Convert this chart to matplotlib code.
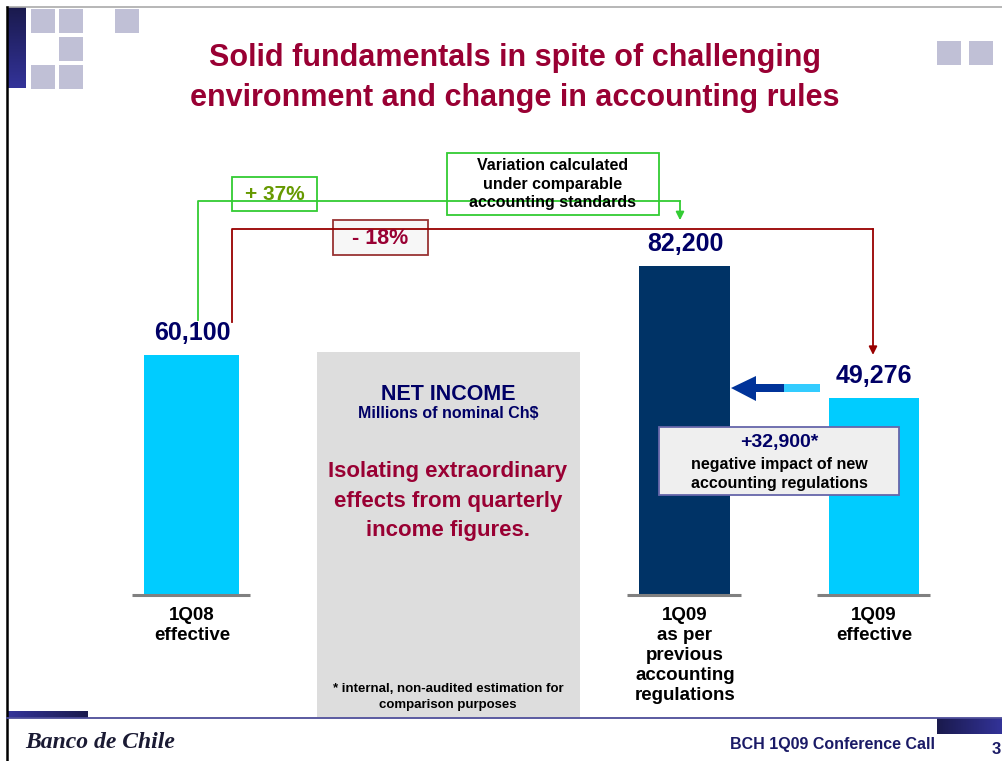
import matplotlib.pyplot as plt
from matplotlib.patches import Rectangle, Polygon
import numpy as np

plt.rcParams['font.family'] = ['Liberation Sans', 'DejaVu Sans']

# data
categories = ['1Q08\neffective',
              '1Q09\nas per\nprevious\naccounting\nregulations',
              '1Q09\neffective']
net_income = [60100, 82200, 49276]
value_labels = ['60,100', '82,200', '49,276']
change_labels = ['+ 37%', '- 18%']
impact_label = '+32,900*'

# layout (figure pixels, y grows downwards)
W, H = 1003, 761
BASE = 595          # pixel row of the zero line
K = 0.004           # pixels per million Ch$
bar_x = [192, 685, 874]
bar_w = [95, 91, 90]
bar_colors = ['#00ccff', '#003366', '#00ccff']

NAVY = '#000066'
CRIMSON = '#990033'
GREEN = '#33cc33'
DARKRED = '#990000'

fig = plt.figure(figsize=(W / 100, H / 100), dpi=100)

# bars axes: same x as pixels, y in data units with zero at BASE
ax = fig.add_axes([0, 0, 1, 1])
ax.set_xlim(0, W)
ax.set_ylim(-(H - BASE) / K, BASE / K)
ax.axis('off')
ax.set_zorder(1)

# decoration axes in pixel coordinates
deco = fig.add_axes([0, 0, 1, 1])
deco.set_zorder(2)
deco.patch.set_visible(False)


def top_px(v):
    return BASE - v * K


ax.bar(bar_x, net_income, width=bar_w, color=bar_colors, zorder=2)
for x, w, v, lbl, cat in zip(bar_x, bar_w, net_income, value_labels, categories):
    ax.hlines(0, x - w / 2 - 12, x + w / 2 + 11, color='#808080', lw=2.2, zorder=3)
    ax.annotate(lbl, (x, v), xytext=(0, 7), textcoords='offset points',
                ha='center', va='bottom', fontsize=18, fontweight='bold', color=NAVY)
    ax.annotate(cat, (x, 0), xytext=(0, -9), textcoords='offset points',
                ha='center', va='top', fontsize=13.5, fontweight='bold',
                color='black', linespacing=1.22)

# frame and corner decorations
deco.plot([7, W], [7, 7], color='#aaaaaa', lw=1.2)
deco.plot([7, 7], [7, H], color='black', lw=1.8)
grad = np.linspace(0, 1, 100).reshape(-1, 1)
top_c = np.array([0x1a, 0x1a, 0x4d]) / 255
bot_c = np.array([0x33, 0x33, 0x99]) / 255
img = top_c + grad[..., None] * (bot_c - top_c)
deco.imshow(img, extent=(7, 26, 88, 7), aspect='auto', origin='upper')
for sx, sy in [(31, 9), (59, 9), (115, 9), (59, 37), (31, 65), (59, 65),
               (937, 41), (969, 41)]:
    deco.add_patch(Rectangle((sx, sy), 24, 24, fc='#c0c0d6', ec='none'))

deco.text(515, 78, 'Solid fundamentals in spite of challenging\n'
          'environment and change in accounting rules',
          ha='center', va='center', fontsize=22, fontweight='bold',
          color=CRIMSON, linespacing=1.4)

# gray info box
deco.add_patch(Rectangle((317, 352), 263, 365, fc='#dddddd', ec='none'))
deco.text(448, 394, 'NET INCOME', ha='center', va='center',
          fontsize=15.5, fontweight='bold', color=NAVY)
deco.text(448, 413, 'Millions of nominal Ch$', ha='center', va='center',
          fontsize=11.5, fontweight='bold', color=NAVY)
deco.text(448, 501, 'Isolating extraordinary\neffects from quarterly\nincome figures.',
          ha='center', va='center', fontsize=16, fontweight='bold',
          color=CRIMSON, linespacing=1.55)
deco.text(448, 697, '* internal, non-audited estimation for\ncomparison purposes',
          ha='center', va='center', fontsize=9.5, fontweight='bold',
          color='black', linespacing=1.45)

# comparison connectors
y1 = top_px(net_income[0]) - 35
y2 = top_px(net_income[1]) - 46
y3 = top_px(net_income[2]) - 43
deco.plot([198, 198, 680], [y1, 201, 201], color=GREEN, lw=1.3)
deco.annotate('', xy=(680, y2), xytext=(680, 201),
              arrowprops=dict(arrowstyle='-|>', color=GREEN, lw=1.3,
                              mutation_scale=12, shrinkA=0, shrinkB=0))
deco.plot([232, 232, 873], [y1 + 2, 229, 229], color=DARKRED, lw=1.3)
deco.annotate('', xy=(873, y3), xytext=(873, 229),
              arrowprops=dict(arrowstyle='-|>', color=DARKRED, lw=1.3,
                              mutation_scale=12, shrinkA=0, shrinkB=0))

deco.add_patch(Rectangle((232, 177), 85, 34, fc='white', ec=GREEN, lw=1.3))
deco.text(274.5, 194, change_labels[0], ha='center', va='center',
          fontsize=15, fontweight='bold', color='#669900')
deco.add_patch(Rectangle((447, 153), 212, 62, fc='white', ec=GREEN, lw=1.3))
deco.text(553, 184, 'Variation calculated\nunder comparable\naccounting standards',
          ha='center', va='center', fontsize=11.5, fontweight='bold',
          color='black', linespacing=1.27)
deco.add_patch(Rectangle((333, 220), 95, 35, fc='#f7f7f7', ec='#993333', lw=1.3))
deco.text(380.5, 238, change_labels[1], ha='center', va='center',
          fontsize=15.5, fontweight='bold', color=CRIMSON)

# impact arrow and box
deco.add_patch(Rectangle((783, 384), 37, 8, fc='#33ccff', ec='none'))
deco.add_patch(Rectangle((754, 384), 30, 8, fc='#003399', ec='none'))
deco.add_patch(Polygon([(731, 388), (756, 376), (756, 401)], fc='#003399', ec='none'))
deco.add_patch(Rectangle((659, 427), 240, 68, fc='#efefef', ec='#6666aa', lw=1.3))
deco.text(779, 443, impact_label, ha='center', va='center',
          fontsize=14, fontweight='bold', color=NAVY)
deco.text(779, 474, 'negative impact of new\naccounting regulations',
          ha='center', va='center', fontsize=11.5, fontweight='bold',
          color='black', linespacing=1.3)

# footer
deco.plot([7, W], [718, 718], color='#4d4d99', lw=1.3)
deco.imshow(img[::-1].transpose(1, 0, 2), extent=(8, 88, 718, 711), aspect='auto')
deco.imshow(img.transpose(1, 0, 2), extent=(937, W, 734, 718), aspect='auto')
deco.text(25, 743, 'Banco de Chile', ha='left', va='center', fontsize=17,
          fontweight='bold', fontstyle='italic', family=['Liberation Serif', 'DejaVu Serif'],
          color='#1a1a33')
deco.text(935, 745, 'BCH 1Q09 Conference Call', ha='right', va='center',
          fontsize=11.5, fontweight='bold', color='#1a1a66')
deco.text(996, 750, '3', ha='center', va='center', fontsize=12,
          fontweight='bold', color='#1a1a66')

deco.set_xlim(0, W)
deco.set_ylim(H, 0)
deco.axis('off')

fig.savefig('out.png', dpi=100, facecolor='white')
